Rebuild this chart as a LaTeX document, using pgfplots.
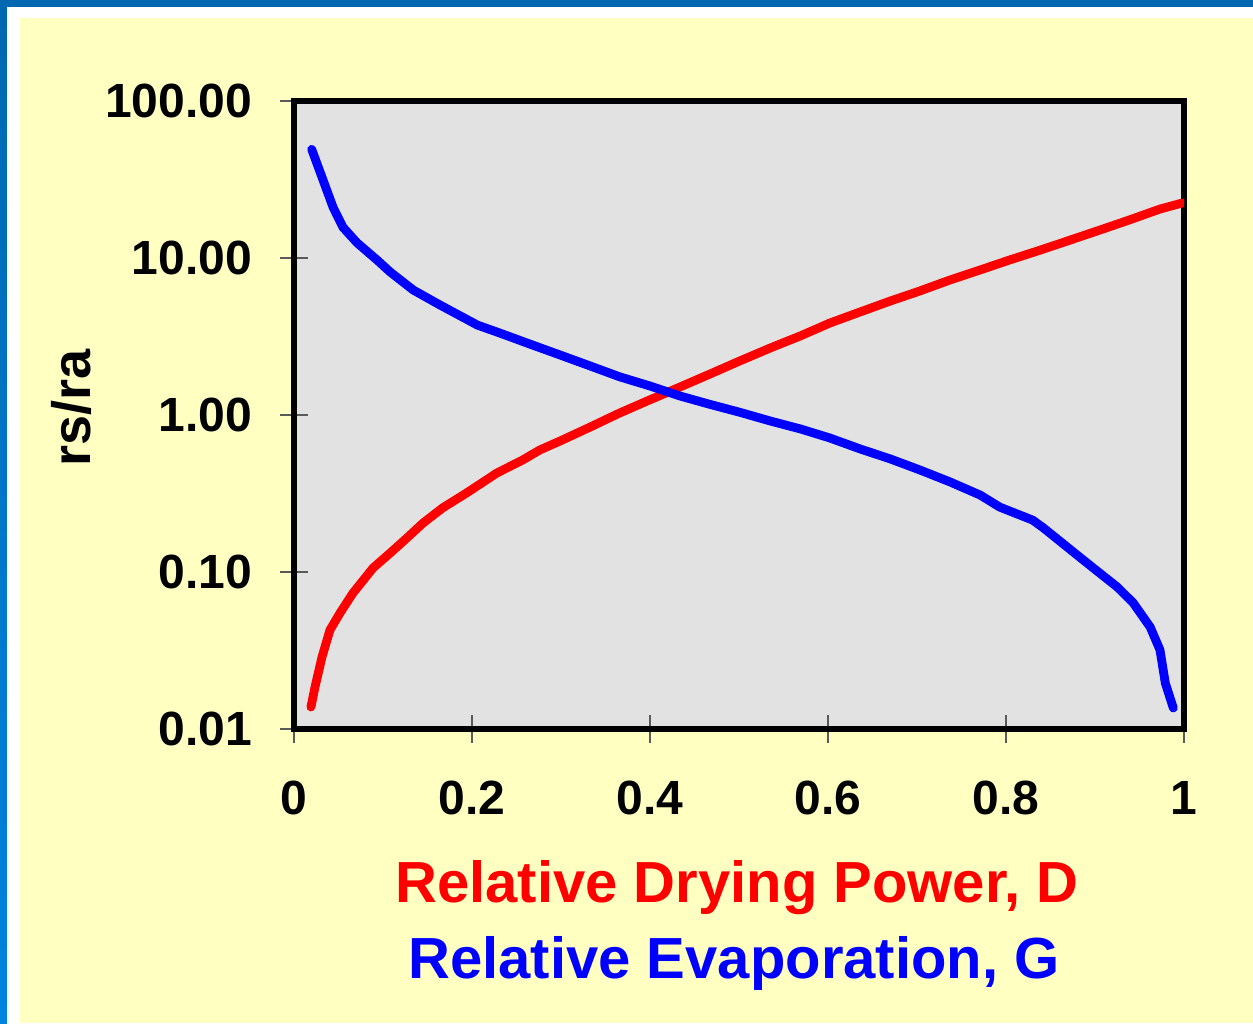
\documentclass[border=0pt]{standalone}
\usepackage{pgfplots}
\pgfplotsset{compat=1.18}
\usepackage{fontspec}
\setmainfont{Liberation Sans}
\definecolor{bgyellow}{RGB}{255,255,194}
\definecolor{plotgray}{RGB}{226,226,226}
\definecolor{framblue}{RGB}{0,104,176}
\definecolor{framblue2}{RGB}{0,132,224}
\definecolor{tickgray}{RGB}{90,90,90}
\begin{document}
\begin{tikzpicture}
\useasboundingbox (0,0) rectangle (626.5pt,511.5pt);
\fill[framblue] (0,0) rectangle (626.5pt,511.5pt);
\shade[top color=framblue, bottom color=framblue2] (0,0) rectangle (3.5pt,508pt);
\fill[white] (3.5pt,0) rectangle (626.5pt,508pt);
\fill[bgyellow] (10pt,0) rectangle (626.5pt,502.5pt);
\begin{axis}[
  at={(147pt,147pt)}, anchor=south west,
  scale only axis, width=445pt, height=314pt,
  ymode=log, xmin=0, xmax=1, ymin=0.01, ymax=100,
  axis background/.style={fill=plotgray},
  axis line style={line width=3pt, black},
  tick style={tickgray, line width=0.6pt},
  tick align=center, major tick length=14pt,
  tick pos=left, yminorticks=false,
  xtick={0,0.2,0.4,0.6,0.8,1},
  xticklabels={0,0.2,0.4,0.6,0.8,1},
  ytick={0.01,0.1,1,10,100},
  yticklabels={0.01,0.10,1.00,10.00,100.00},
  ticklabel style={font=\fontsize{24}{24}\selectfont\bfseries},
  yticklabel style={xshift=-10.5pt},
  xticklabel style={yshift=-15.5pt},
]
\addplot[red, line width=4.4pt, line cap=round, line join=round] coordinates {
(0.019,0.0138) (0.0236,0.0185) (0.0315,0.0288) (0.0404,0.0427) (0.0517,0.0548)
(0.0663,0.0735) (0.0888,0.106) (0.108,0.132) (0.127,0.165) (0.145,0.205)
(0.167,0.256) (0.194,0.319) (0.228,0.427) (0.257,0.517) (0.276,0.598)
(0.299,0.683) (0.333,0.839) (0.366,1.03) (0.400,1.25) (0.434,1.51)
(0.467,1.82) (0.501,2.21) (0.535,2.67) (0.569,3.19) (0.602,3.85)
(0.636,4.53) (0.670,5.32) (0.703,6.16) (0.737,7.24) (0.771,8.39)
(0.804,9.71) (0.838,11.2) (0.872,13.0) (0.906,15.1) (0.939,17.5)
(0.973,20.5) (0.998,22.4)
};
\addplot[blue, line width=4.4pt, line cap=round, line join=round] coordinates {
(0.0199,49.2) (0.0326,31.4) (0.0438,21.1) (0.055,15.7) (0.0708,12.5)
(0.0933,9.71) (0.108,8.15) (0.134,6.25) (0.164,5.02) (0.206,3.74)
(0.231,3.33) (0.265,2.83) (0.299,2.41) (0.333,2.05) (0.366,1.75)
(0.400,1.53) (0.434,1.32) (0.467,1.17) (0.501,1.04) (0.535,0.916)
(0.569,0.815) (0.602,0.714) (0.636,0.608) (0.670,0.525) (0.703,0.447)
(0.737,0.375) (0.771,0.309) (0.793,0.259) (0.830,0.214) (0.842,0.191)
(0.887,0.119) (0.925,0.0802) (0.943,0.0635) (0.962,0.0446) (0.973,0.0319)
(0.979,0.0196) (0.988,0.0136)
};
\end{axis}
\node[rotate=90, font=\fontsize{27}{27}\selectfont\bfseries] at (35.5pt,307.5pt) {rs/ra};
\node[anchor=base, text=red, font=\fontsize{29}{29}\selectfont\bfseries] at (368.5pt,60pt) {Relative Drying Power, D};
\node[anchor=base, text=blue, font=\fontsize{29}{29}\selectfont\bfseries] at (367pt,22.5pt) {Relative Evaporation, G};
\end{tikzpicture}
\end{document}
